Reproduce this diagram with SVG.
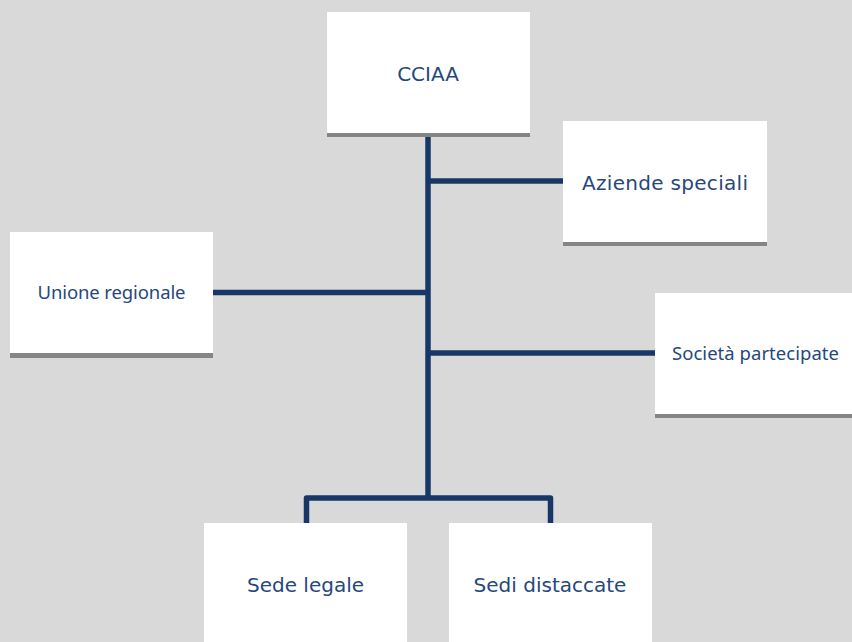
<svg xmlns="http://www.w3.org/2000/svg" width="852" height="642" viewBox="0 0 852 642">
<style>
.box{fill:#ffffff}
.sh{fill:#858585}
.t1{font-family:"DejaVu Sans",Verdana,sans-serif;font-size:20px;fill:#26487c;text-anchor:middle}
.t2{font-family:"Noto Sans","Open Sans",sans-serif;font-size:18.5px;fill:#26487c;text-anchor:middle}
.c{fill:none;stroke:#173866;stroke-width:5.5;stroke-linejoin:round}
</style>
<rect width="852" height="642" fill="#d9d9d9"/>
<g id="connectors">
<path class="c" d="M428,133 V498"/>
<path class="c" d="M428,181 H563"/>
<path class="c" d="M213,292.5 H428"/>
<path class="c" d="M428,353 H655"/>
<path class="c" d="M306.5,523 V498 H550.5 V523"/>
</g>
<g id="cciaa">
<rect class="sh" x="327" y="129" width="203" height="8"/>
<rect class="box" x="327" y="12" width="203" height="121"/>
<text class="t1" x="428" y="81">CCIAA</text>
</g>
<g id="aziende">
<rect class="sh" x="563" y="238" width="204" height="8"/>
<rect class="box" x="563" y="121" width="204" height="121"/>
<text class="t1" x="665" y="190" textLength="166">Aziende speciali</text>
</g>
<g id="unione">
<rect class="sh" x="10" y="349" width="203" height="9"/>
<rect class="box" x="10" y="232" width="203" height="121"/>
<text class="t2" x="111.5" y="299" textLength="148">Unione regionale</text>
</g>
<g id="societa">
<rect class="sh" x="655" y="410" width="203" height="8"/>
<rect class="box" x="655" y="293" width="203" height="121"/>
<text class="t2" x="755.5" y="360" textLength="167">Società partecipate</text>
</g>
<g id="sede">
<rect class="box" x="204" y="523" width="203" height="125"/>
<text class="t1" x="305.5" y="592">Sede legale</text>
</g>
<g id="sedi">
<rect class="box" x="449" y="523" width="203" height="125"/>
<text class="t1" x="550" y="592">Sedi distaccate</text>
</g>
</svg>
